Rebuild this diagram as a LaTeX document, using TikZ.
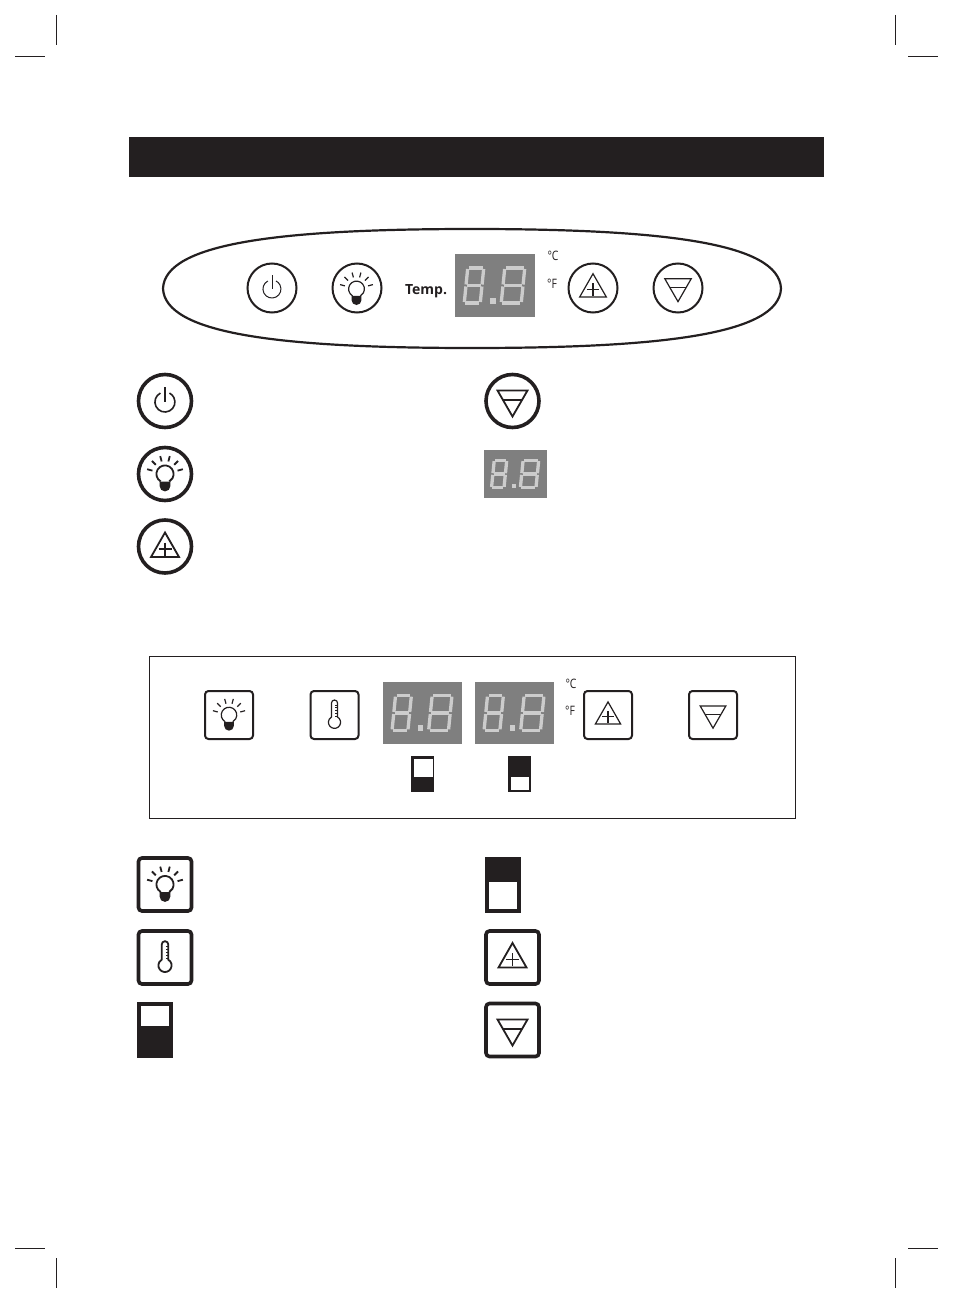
\documentclass[tikz,border=0pt]{standalone}
\usepackage{fontspec}
\usepackage{graphicx}
\setmainfont{Open Sans}
\definecolor{ink}{HTML}{231F20}
\definecolor{dispgray}{HTML}{7F7F7F}
\definecolor{seggray}{HTML}{CCCCCC}
\tikzset{
  crop/.style={draw=ink,line width=1pt},
  ln/.style={draw=ink,line width=#1,line cap=butt,line join=miter},
  seg/.style={draw=seggray,line width=3.3pt},
  unitlabel/.style={inner sep=0pt,text=ink,font=\fontsize{13}{13}\selectfont},
}
% #1 x, #2 y, #3 scale, #4 line width
\newcommand{\ringicon}[4]{\draw[ln=#4] (#1,#2) circle[radius=#3];}
\newcommand{\squareicon}[4]{\draw[ln=#4,rounded corners=3.5pt] (#1-#3,#2-#3) rectangle (#1+#3,#2+#3);}
\newcommand{\powericon}[4]{\begin{scope}[shift={(#1,#2)},scale=#3]
  \draw[ln=#4] (-4.6,-8.9) arc[start angle=243,end angle=-63,radius=10];
  \draw[ln=#4] (0,-15) -- (0,0);
\end{scope}}
\newcommand{\bulbicon}[4]{\begin{scope}[shift={(#1,#2)},scale=#3]
  \draw[ln=#4] (-4.3,7.45) arc[start angle=120,end angle=420,radius=8.6];
  \fill[ink] (-5.4,7.5) -- (5.4,7.5) -- (5.4,12) arc[start angle=0,end angle=180,radius=5.4] -- cycle;
  \foreach \a in {15,45,75,105,135,165}
    \draw[ln=#4] ({13*cos(\a)},{-13*sin(\a)}) -- ({18.5*cos(\a)},{-18.5*sin(\a)});
\end{scope}}
\newcommand{\upicon}[4]{\begin{scope}[shift={(#1,#2)},scale=#3]
  \draw[ln=#4] (0,-14) -- (14,10.5) -- (-14,10.5) -- cycle;
  \draw[ln=#4] (-6.5,2.5) -- (6.5,2.5) (0,-4) -- (0,9);
\end{scope}}
\newcommand{\downicon}[4]{\begin{scope}[shift={(#1,#2)},scale=#3]
  \draw[ln=#4] (-15,-10.5) -- (15,-10.5) -- (0,15.5) -- cycle;
  \draw[ln=#4] (-9.5,-1) -- (9.5,-1);
\end{scope}}
\newcommand{\thermoicon}[4]{\begin{scope}[shift={(#1,#2)},scale=#3]
  \draw[ln=#4] (-3.3,2.2) -- (-3.3,-13) arc[start angle=180,end angle=360,radius=3.3] -- (3.3,2.2)
     arc[start angle=-60,end angle=240,radius=6.6] -- cycle;
  \foreach \t in {-11,-8,-5,-2,1}
    \draw[ln=.6pt] (.8,\t) -- (3.3,\t);
\end{scope}}
\newcommand{\digitglyph}[2]{\begin{scope}[shift={(#1,0)},xslant=.1]
  \draw[seg] (-#2+1,-17.5) -- (#2-1,-17.5) (-#2+1,0) -- (#2-1,0) (-#2+1,17.5) -- (#2-1,17.5);
  \draw[seg] (-#2,-16.5) -- (-#2,-1) (#2,-16.5) -- (#2,-1) (-#2,1) -- (-#2,16.5) (#2,1) -- (#2,16.5);
\end{scope}}
% #1 cx, #2 cy, #3 scale
\newcommand{\dispicon}[3]{\begin{scope}[shift={(#1,#2)},scale=#3]
  \fill[dispgray] (-40,-31) rectangle (40,31);
  \digitglyph{-21}{8}
  \digitglyph{18}{10}
  \fill[seggray] (-5,12.5) rectangle (1,18.5);
\end{scope}}
\begin{document}
\begin{tikzpicture}[x=1pt,y=-1pt]
\useasboundingbox (0,0) rectangle (953,1305);
\fill[white] (0,0) rectangle (953,1305);
% crop marks
\draw[crop] (56.5,15) -- (56.5,45) (15,56.5) -- (45,56.5);
\draw[crop] (895.5,15) -- (895.5,45) (908,56.5) -- (938,56.5);
\draw[crop] (56.5,1258) -- (56.5,1288) (15,1248) -- (45,1248);
\draw[crop] (895.5,1258) -- (895.5,1288) (908,1248) -- (938,1248);
% title bar
\fill[ink] (129,137) rectangle (824,177);
% oval panel
\draw[ln=2.2pt] (163,288.5) .. controls (165,243) and (280,229) .. (472,229)
   .. controls (664,229) and (779,243) .. (781,288.5)
   .. controls (779,334) and (664,348) .. (472,348)
   .. controls (280,348) and (165,334) .. (163,288.5) -- cycle;
\ringicon{272}{288}{24.5}{2pt}
\powericon{272}{289}{.9}{1pt}
\ringicon{357}{288}{24.5}{2pt}
\bulbicon{356.5}{289}{.92}{1.2pt}
\node[inner sep=0pt,text=ink,font=\bfseries\fontsize{14}{14}\selectfont] (temp) at (426,291) {Temp.};
\dispicon{495}{285.5}{1}
\node[unitlabel] (c1) at (553,256) {\scalebox{.8}[1]{°C}};
\node[unitlabel] (f1) at (552,283.5) {\scalebox{.8}[1]{°F}};
\ringicon{593}{288}{24.5}{2pt}
\upicon{593}{287}{.95}{1.2pt}
\ringicon{678}{288}{24.5}{2pt}
\downicon{678}{288}{.88}{1.2pt}
% legend 1
\ringicon{165}{401}{26.5}{3.6pt}
\powericon{165}{402}{1}{1.6pt}
\ringicon{165}{474}{26.5}{3.6pt}
\bulbicon{165}{474}{1}{1.8pt}
\ringicon{165}{546.5}{26.5}{3.6pt}
\upicon{165}{546.5}{1}{1.8pt}
\ringicon{512.5}{401}{26.5}{3.6pt}
\downicon{512.5}{401}{1}{1.8pt}
\dispicon{515.5}{474}{.78}
% rectangular panel
\draw[ln=1pt] (149.5,656.5) rectangle (795.5,818.5);
\squareicon{229}{715}{24}{2pt}
\bulbicon{229}{715}{.9}{1.2pt}
\squareicon{334.5}{715}{24}{2pt}
\thermoicon{334.5}{715}{.92}{1.2pt}
\dispicon{422.5}{713}{.99}
\dispicon{514.5}{713}{.99}
\node[unitlabel] (c2) at (571,683.5) {\scalebox{.8}[1]{°C}};
\node[unitlabel] (f2) at (570,710.5) {\scalebox{.8}[1]{°F}};
\squareicon{608}{715}{24}{2pt}
\upicon{608}{714.5}{.9}{1.2pt}
\squareicon{713}{715}{24}{2pt}
\downicon{713}{715}{.85}{1.2pt}
\fill[ink] (411,756) rectangle (434,792);
\fill[white] (414,759) rectangle (432.5,776.5);
\fill[ink] (508,756) rectangle (531,792);
\fill[white] (510.5,776.5) rectangle (528.5,790);
% legend 2
\squareicon{165}{884.5}{26.5}{3.6pt}
\bulbicon{165}{884.5}{1}{1.8pt}
\squareicon{165}{957.5}{26.5}{3.6pt}
\thermoicon{165}{957.5}{1}{1.8pt}
\fill[ink] (137,1002) rectangle (173,1058);
\fill[white] (141,1006) rectangle (169,1025.5);
\fill[ink] (484.5,857) rectangle (520.5,913);
\fill[white] (488.5,882) rectangle (516.5,909);
\squareicon{512.5}{957.5}{26.5}{3.6pt}
\upicon{512.5}{957}{1}{1.8pt}
\squareicon{512.5}{1030}{26.5}{3.6pt}
\downicon{512.5}{1030}{1}{1.8pt}
\end{tikzpicture}
\end{document}
